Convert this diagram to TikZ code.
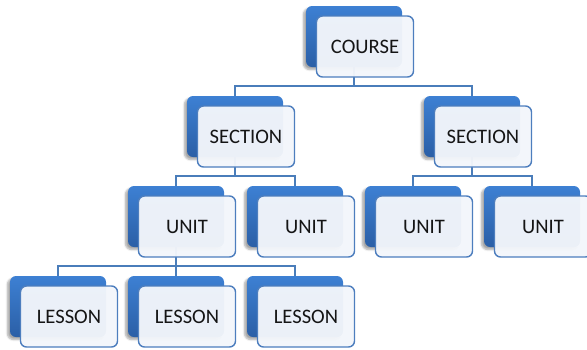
\documentclass[tikz,border=0pt]{standalone}
\usepackage{fontspec}
\setmainfont{Carlito}
\usetikzlibrary{shadows.blur,backgrounds,calc}
\definecolor{backtop}{HTML}{3D80D3}
\definecolor{backbot}{HTML}{2B5FA6}
\definecolor{frontfill}{HTML}{F3F6FB}
\definecolor{frontline}{HTML}{4D7EBE}
\definecolor{connline}{HTML}{4A7DBA}
\definecolor{txt}{HTML}{151515}
\tikzset{
  backbox/.style={rectangle, rounded corners=6pt, minimum width=96pt, minimum height=61pt,
    inner sep=0pt, top color=backtop, bottom color=backbot, draw=none,
    blur shadow={shadow xshift=-2.5pt, shadow yshift=-2.5pt, shadow blur steps=6, shadow opacity=35}},
  frontbox/.style={rectangle, rounded corners=6pt, minimum width=97pt, minimum height=61pt,
    inner sep=0pt, fill=frontfill, fill opacity=0.96, text opacity=1, draw=frontline, line width=1.4pt,
    text=txt, font=\fontsize{20.6pt}{24pt}\selectfont},
  conn/.style={draw=connline, line width=1.8pt}
}
\newcommand\mkunit[4]{%
  \node[backbox] (#1-b) at (#2+48, #3+30.5) {};
  \node[frontbox] (#1) at (#2+59, #3+40.5) {#4};
}
\begin{document}
\begin{tikzpicture}[x=1pt,y=-1pt]
\useasboundingbox (0,0) rectangle (587,349);
\mkunit{course}{306}{6}{COURSE}
\mkunit{secL}{187}{96}{SECTION}
\mkunit{secR}{424}{96}{SECTION}
\mkunit{u1}{128}{186}{UNIT}
\mkunit{u2}{247}{186}{UNIT}
\mkunit{u3}{365}{186}{UNIT}
\mkunit{u4}{484}{186}{UNIT}
\mkunit{l1}{10}{276}{LESSON}
\mkunit{l2}{128}{276}{LESSON}
\mkunit{l3}{247}{276}{LESSON}
\begin{scope}[on background layer]
\foreach \p/\c in {course/secL,course/secR,secL/u1,secL/u2,secR/u3,secR/u4,u1/l1,u1/l2,u1/l3}{
  \draw[conn] (\p-b.south) |- ([yshift=10pt]\c-b.north) -- (\c-b.north);
}
\end{scope}
\end{tikzpicture}
\end{document}
